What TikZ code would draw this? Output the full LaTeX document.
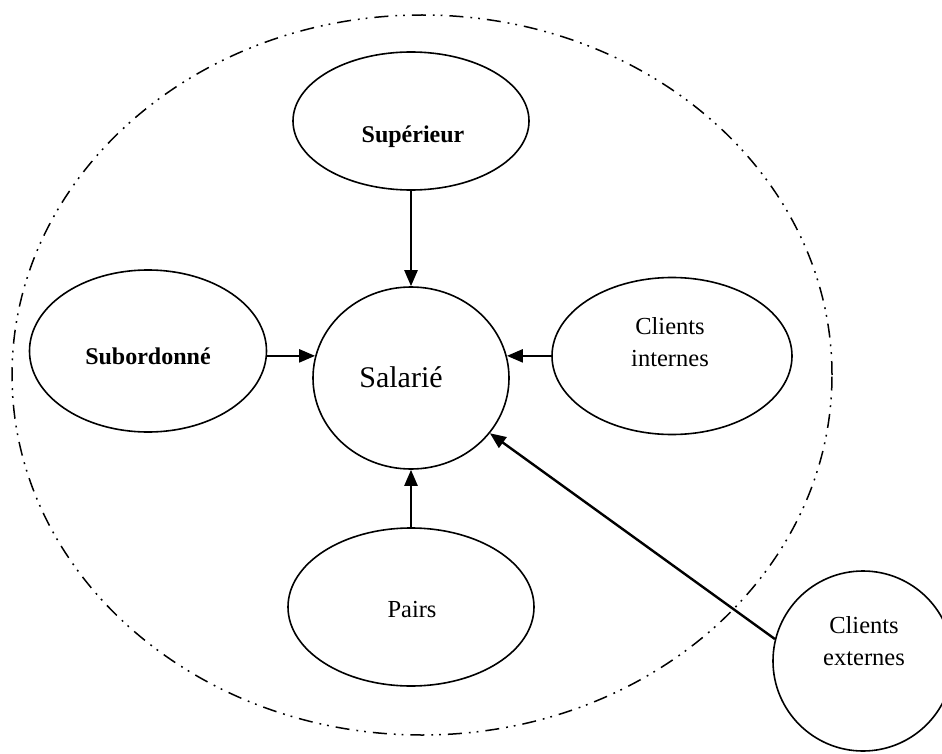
\documentclass[tikz,border=0pt]{standalone}
\usepackage{fontspec}
\setmainfont{Liberation Serif}
\usetikzlibrary{shapes.geometric,arrows.meta}

\begin{document}
\begin{tikzpicture}[x=1pt,y=-1pt,
  oval/.style={ellipse, draw, line width=1.6pt, inner sep=0pt, fill=white},
  txt/.style={font=\fontsize{24.5}{32}\selectfont, align=center, inner sep=0pt},
  bigtxt/.style={font=\fontsize{30}{36}\selectfont, inner sep=0pt},
  arr/.style={line width=2.4pt, -{Triangle[length=16pt,width=13pt]}},
  outer/.style={ellipse, draw, line width=1.5pt, inner sep=0pt,
    dash pattern=on 14pt off 7pt on 1.8pt off 6pt on 1.8pt off 7pt}
]
\useasboundingbox (0,0) rectangle (942,754);
\clip (0,0) rectangle (942,754);

% organisation boundary
\node[outer, minimum width=820pt, minimum height=720pt] (org) at (422,375) {};

% actors
\node[oval, minimum width=236pt, minimum height=138pt] (sup) at (411,121) {};
\node[txt, font=\fontsize{24}{32}\selectfont\bfseries] (supT) at (413,137) {Supérieur};

\node[oval, minimum width=237pt, minimum height=162pt] (sub) at (148,351) {};
\node[txt, font=\fontsize{24}{32}\selectfont\bfseries] (subT) at (148,356) {Subordonné};

\node[oval, minimum width=196pt, minimum height=182pt] (sal) at (411,378) {};
\node[bigtxt] (salT) at (401,377) {Salarié};

\node[oval, minimum width=240pt, minimum height=157pt] (cint) at (672,356) {};
\node[txt] (cintT) at (670,342) {Clients\\internes};

\node[oval, minimum width=246pt, minimum height=158pt] (pairs) at (411,607) {};
\node[txt] (pairsT) at (412,610) {Pairs};

\node[oval, minimum width=180pt, minimum height=180pt] (cext) at (863,661) {};
\node[txt] (cextT) at (864,641) {Clients\\externes};

% evaluation flows towards the employee
\draw[arr] (sup.south) -- (sal.north);
\draw[arr] (sub.east |- sal.167) -- (sal.167);
\draw[arr] (cint.west |- sal.13) -- (sal.13);
\draw[arr] (pairs.north) -- (sal.south);
\draw[arr] (cext.166) -- (sal.-35);
\end{tikzpicture}
\end{document}
